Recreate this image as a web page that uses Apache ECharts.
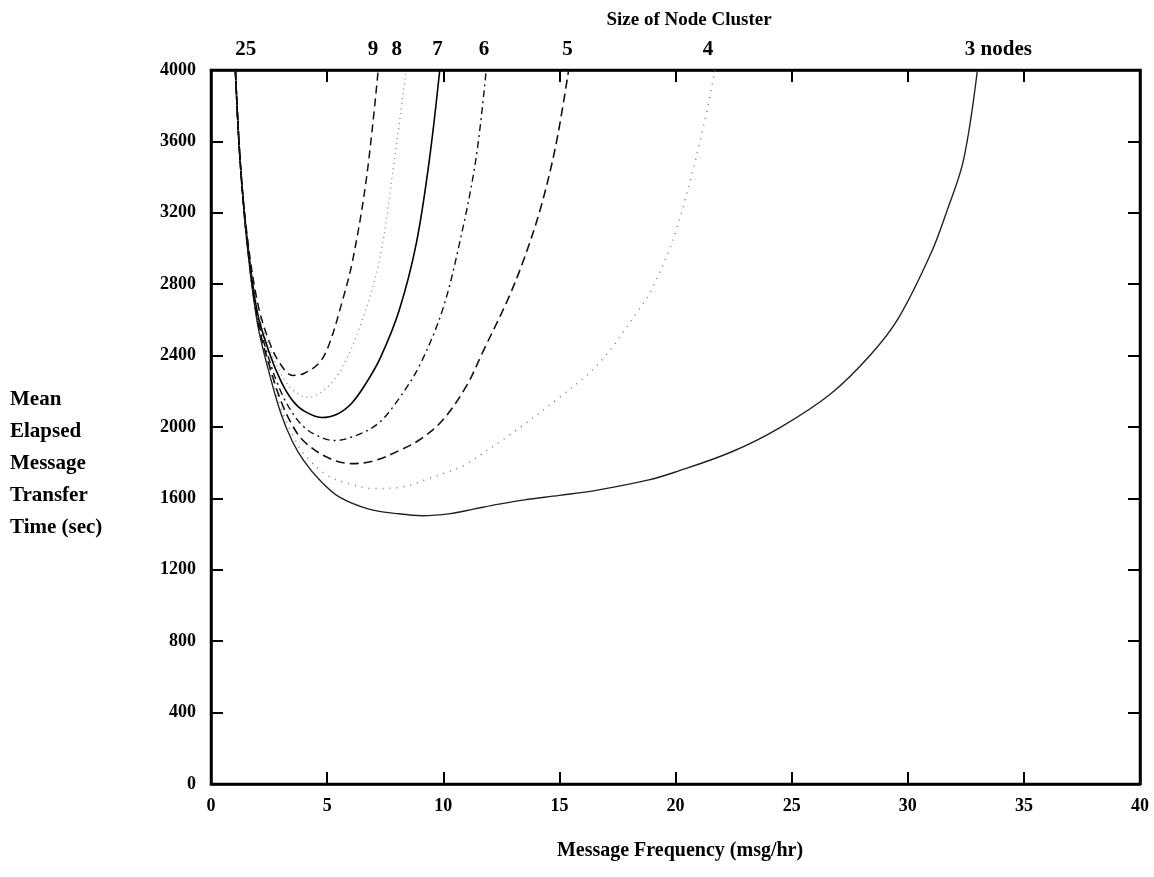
<!DOCTYPE html>
<html>
<head>
<meta charset="utf-8">
<script src="https://cdn.jsdelivr.net/npm/echarts@6/dist/echarts.min.js"></script>
<style>
html,body{margin:0;padding:0;background:#fff;}
#chart{width:1154px;height:877px;}
</style>
</head>
<body>
<div id="chart"></div>
<script>
// ---- data (x = message frequency msg/hr, y = mean elapsed time sec) ----
const xTicks = [0, 5, 10, 15, 20, 25, 30, 35, 40];
const yTicks = [0, 400, 800, 1200, 1600, 2000, 2400, 2800, 3200, 3600, 4000];

const clusterLabelPos  = [1.5, 6.97, 8.0, 9.75, 11.75, 15.35, 21.4, 33.9];
const clusterLabelText = ['25', '9', '8', '7', '6', '5', '4', '3 nodes'];

const nodes9 = [[1.05,4000],[1.25,3500],[1.55,3080],[2.0,2700],[2.5,2480],[3.0,2350],[3.52,2289],[4.0,2300],[4.68,2362],[5.1,2468],[5.6,2680],[6.1,2934],[6.7,3400],[7.2,4000]];
const nodes8 = [[1.05,4000],[1.25,3500],[1.55,3070],[2.0,2670],[2.5,2450],[3.0,2300],[3.5,2210],[4.16,2166],[4.8,2200],[5.5,2300],[6.4,2558],[7.25,2934],[7.8,3400],[8.4,4000]];
const nodes7 = [[1.05,4000],[1.25,3500],[1.55,3060],[2.0,2640],[2.5,2420],[3.0,2260],[3.5,2150],[4.0,2090],[4.76,2053],[5.4,2070],[6.05,2132],[6.7,2250],[7.3,2390],[8.1,2653],[8.84,3029],[9.4,3495],[9.85,4000]];
const nodes6 = [[1.05,4000],[1.25,3500],[1.55,3050],[2.0,2620],[2.5,2380],[3.0,2200],[3.5,2080],[4.0,2000],[4.6,1950],[5.3,1924],[6.2,1950],[7.2,2020],[8.1,2160],[9.0,2350],[9.96,2653],[10.7,3029],[11.4,3495],[11.85,4000]];
const nodes5 = [[1.05,4000],[1.25,3500],[1.55,3040],[2.0,2600],[2.5,2350],[3.0,2150],[3.5,2010],[4.0,1920],[5.0,1830],[6.05,1795],[7.0,1810],[8.1,1868],[9.0,1930],[9.96,2036],[11.0,2230],[11.7,2420],[12.8,2720],[13.5,2950],[14.2,3230],[14.85,3580],[15.4,4000]];
const nodes4 = [[1.05,4000],[1.25,3500],[1.55,3030],[2.0,2590],[2.5,2330],[3.0,2110],[3.5,1960],[4.0,1850],[5.0,1730],[6.0,1680],[7.0,1655],[8.1,1661],[9.5,1717],[10.4,1758],[10.9,1785],[12.7,1941],[13.3,1997],[14.85,2150],[16.7,2356],[18.4,2653],[19.0,2777],[20.0,3091],[21.1,3624],[21.7,4000]];
const nodes3 = [[1.05,4000],[1.25,3500],[1.55,3030],[2.0,2580],[2.45,2330],[3.0,2080],[3.5,1920],[4.0,1810],[4.7,1700],[5.5,1610],[6.8,1540],[8.0,1515],[9.1,1503],[10.3,1515],[11.3,1540],[12.4,1568],[13.5,1592],[15.0,1617],[16.7,1648],[18.8,1702],[20.0,1748],[22.4,1860],[24.5,1997],[26.7,2188],[28.4,2405],[29.6,2610],[31.0,2973],[31.7,3215],[32.4,3495],[33.0,4000]];

const FONT = '"Liberation Serif", "DejaVu Serif", serif';

function curve(name, data, color, width, type) {
  return {
    name: name, type: 'line', data: data, smooth: 0.35, showSymbol: false,
    xAxisIndex: 0, yAxisIndex: 0,
    lineStyle: { color: color, width: width, type: type },
    z: 3
  };
}

const chart = echarts.init(document.getElementById('chart'), null, { renderer: 'canvas' });
chart.setOption({
  backgroundColor: '#fff',
  animation: false,
  grid: { left: 211, right: 14, top: 70, bottom: 93, show: true, borderColor: '#000', borderWidth: 2.5, backgroundColor: 'transparent' },
  title: {
    text: 'Size of Node Cluster', left: 684, top: 6, textAlign: 'center',
    textStyle: { fontFamily: FONT, fontWeight: 'bold', fontSize: 19, color: '#000' }
  },
  graphic: [
    { type: 'text', left: 10, top: 384,
      style: { text: 'Mean\nElapsed\nMessage\nTransfer\nTime (sec)', font: 'bold 21px ' + FONT, fill: '#000', lineHeight: 32 } },
    { type: 'text', x: 680, y: 851,
      style: { text: 'Message Frequency (msg/hr)', font: 'bold 20px ' + FONT, fill: '#000', align: 'center', verticalAlign: 'middle' } }
  ],
  xAxis: [
    { type: 'value', position: 'bottom', min: xTicks[0], max: xTicks[xTicks.length - 1], interval: 5,
      axisLine: { show: true, onZero: false, lineStyle: { color: '#000', width: 2.5 } },
      axisTick: { show: true, inside: true, length: 12, lineStyle: { color: '#000', width: 2 } },
      axisLabel: { margin: 13, fontFamily: FONT, fontWeight: 'bold', fontSize: 18, color: '#000' },
      splitLine: { show: false } },
    { type: 'value', position: 'top', min: xTicks[0], max: xTicks[xTicks.length - 1], interval: 5,
      axisLine: { show: true, onZero: false, lineStyle: { color: '#000', width: 2.5 } },
      axisTick: { show: true, inside: true, length: 12, lineStyle: { color: '#000', width: 2 },
                  customValues: xTicks.slice(1, -1) },
      axisLabel: { show: true, margin: 10, customValues: clusterLabelPos,
                   formatter: function (v) { const i = clusterLabelPos.indexOf(v); return i >= 0 ? clusterLabelText[i] : ''; },
                   fontFamily: FONT, fontWeight: 'bold', fontSize: 21, color: '#000' },
      splitLine: { show: false } }
  ],
  yAxis: [
    { type: 'value', position: 'left', min: yTicks[0], max: yTicks[yTicks.length - 1], interval: 400,
      axisLine: { show: true, onZero: false, lineStyle: { color: '#000', width: 2.5 } },
      axisTick: { show: true, inside: true, length: 12, lineStyle: { color: '#000', width: 2 } },
      axisLabel: { margin: 15, fontFamily: FONT, fontWeight: 'bold', fontSize: 18, color: '#000',
                   formatter: function (v) { return String(v); } },
      splitLine: { show: false } },
    { type: 'value', position: 'right', min: yTicks[0], max: yTicks[yTicks.length - 1], interval: 400,
      axisLine: { show: true, onZero: false, lineStyle: { color: '#000', width: 2.5 } },
      axisTick: { show: true, inside: true, length: 12, lineStyle: { color: '#000', width: 2 } },
      axisLabel: { show: false },
      splitLine: { show: false } }
  ],
  series: [
    curve('3 nodes', nodes3, '#222', 1.4, 'solid'),
    curve('4 nodes', nodes4, '#777', 1.5, [1, 6]),
    curve('5 nodes', nodes5, '#111', 1.6, [9, 5]),
    curve('6 nodes', nodes6, '#111', 1.4, [7, 4, 2, 4]),
    curve('7 nodes', nodes7, '#000', 1.6, 'solid'),
    curve('8 nodes', nodes8, '#888', 1.3, [1, 4]),
    curve('9 nodes', nodes9, '#111', 1.5, [8, 5])
  ]
});
</script>
</body>
</html>
